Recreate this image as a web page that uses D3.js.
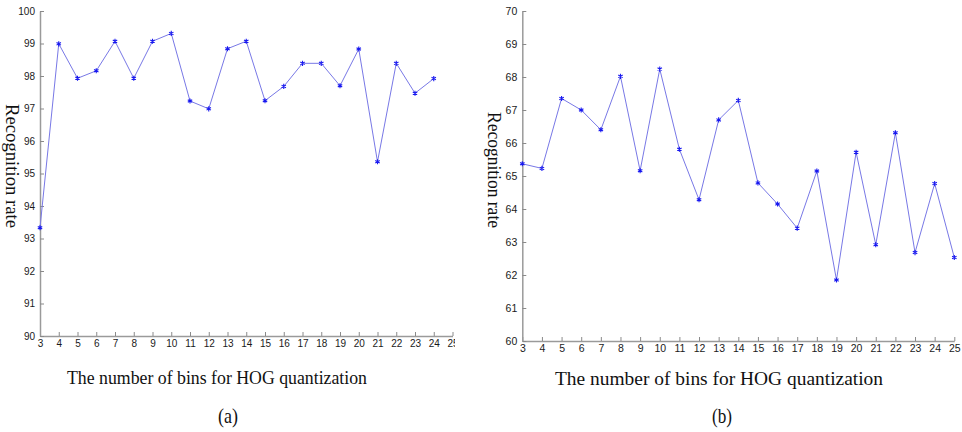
<!DOCTYPE html>
<html>
<head>
<meta charset="utf-8">
<script src="https://cdn.jsdelivr.net/npm/d3@7"></script>
<style>
  body { margin: 0; background: #fff; }
  .tick text { font-family: Arial, "Liberation Sans", sans-serif; fill: #1a1a1a; }
  .ttl { font-family: "Liberation Serif", "Times New Roman", serif; fill: #111; }
</style>
</head>
<body>
<svg id="chart" width="962" height="432"></svg>
<script>
// bins on the x axis
const binsA = [3,4,5,6,7,8,9,10,11,12,13,14,15,16,17,18,19,20,21,22,23,24];
const binsB = [3,4,5,6,7,8,9,10,11,12,13,14,15,16,17,18,19,20,21,22,23,24,25];

// recognition rates
const rateA = [93.33,98.99,97.93,98.16,99.07,97.93,99.07,99.31,97.23,96.99,98.84,
               99.07,97.24,97.68,98.39,98.39,97.70,98.83,95.36,98.39,97.47,97.92];
const rateB = [65.37,65.23,67.35,67.00,66.40,68.02,65.16,68.24,65.81,64.28,66.70,
               67.29,64.79,64.15,63.42,65.15,61.85,65.72,62.92,66.31,62.68,64.77,62.53];

const xTicks = d3.range(3, 26);
const yTicksA = d3.range(90, 101);
const yTicksB = d3.range(60, 71);

const svg = d3.select('#chart');

// clip for panel (a): its "25" label is cut at the panel edge
svg.append('defs').append('clipPath').attr('id', 'clipA')
  .append('rect').attr('x', 0).attr('y', 0).attr('width', 455).attr('height', 432);

function panel(opts) {
  let g = svg.append('g');
  if (opts.clip) g.attr('clip-path', 'url(#' + opts.clip + ')');

  let x = d3.scaleLinear().domain([3, 25]).range([opts.left, opts.right]);
  let y = d3.scaleLinear().domain(opts.yDomain).range([opts.bottom, opts.top]);

  let xAxis = g.append('g')
    .attr('transform', 'translate(0,' + opts.bottom + ')')
    .call(d3.axisBottom(x).tickValues(xTicks).tickFormat(d3.format('d'))
      .tickSizeInner(-4).tickSizeOuter(0).tickPadding(4));

  let yAxis = g.append('g')
    .attr('transform', 'translate(' + opts.left + ',0)')
    .call(d3.axisLeft(y).tickValues(opts.yTicks).tickFormat(d3.format('d'))
      .tickSizeInner(-4).tickSizeOuter(0).tickPadding(5));

  [xAxis, yAxis].forEach(a => {
    a.select('.domain').attr('stroke', '#9a9a9a').attr('stroke-width', 1.5);
    a.selectAll('.tick line').attr('stroke', '#8a8a8a');
    a.selectAll('.tick text').style('font-size', opts.tickFont + 'px');
  });

  let pts = opts.bins.map((b, i) => [b, opts.rates[i]]);

  let line = d3.line().x(d => x(d[0])).y(d => y(d[1]));
  g.append('path')
    .datum(pts)
    .attr('fill', 'none')
    .attr('stroke', '#7878e6')
    .attr('stroke-width', 1)
    .attr('d', line);

  let star = d3.symbol().type(d3.symbolAsterisk).size(18);
  g.selectAll('.mk')
    .data(pts)
    .enter().append('path')
    .attr('class', 'mk')
    .attr('transform', d => 'translate(' + x(d[0]) + ',' + y(d[1]) + ')')
    .attr('d', star)
    .attr('fill', 'none')
    .attr('stroke', '#1818f0')
    .attr('stroke-width', 1.1);

  // axis titles
  svg.append('text').attr('class', 'ttl')
    .attr('transform', 'translate(' + opts.ylabX + ',' + opts.ylabY + ') rotate(90)')
    .attr('text-anchor', 'middle')
    .attr('textLength', opts.ylabLen).attr('lengthAdjust', 'spacingAndGlyphs')
    .style('font-size', '19px')
    .text('Recognition rate');

  svg.append('text').attr('class', 'ttl')
    .attr('x', opts.xlabX).attr('y', opts.xlabY)
    .attr('text-anchor', 'middle')
    .attr('textLength', opts.xlabLen).attr('lengthAdjust', 'spacingAndGlyphs')
    .style('font-size', '19px')
    .text('The number of bins for HOG quantization');

  svg.append('text').attr('class', 'ttl')
    .attr('x', opts.subX).attr('y', 423)
    .attr('text-anchor', 'middle')
    .attr('textLength', 20).attr('lengthAdjust', 'spacingAndGlyphs')
    .style('font-size', '21px')
    .text(opts.sub);
}

panel({
  bins: binsA, rates: rateA, yDomain: [90, 100], yTicks: yTicksA,
  left: 40, right: 452.5, top: 11, bottom: 336, tickFont: 10, clip: 'clipA',
  ylabX: 6, ylabY: 166, ylabLen: 124,
  xlabX: 217, xlabY: 384, xlabLen: 300,
  subX: 228, sub: '(a)'
});

panel({
  bins: binsB, rates: rateB, yDomain: [60, 70], yTicks: yTicksB,
  left: 522.3, right: 954.3, top: 11, bottom: 341, tickFont: 10.5,
  ylabX: 488, ylabY: 170, ylabLen: 116,
  xlabX: 719, xlabY: 385, xlabLen: 328,
  subX: 722, sub: '(b)'
});
</script>
</body>
</html>
